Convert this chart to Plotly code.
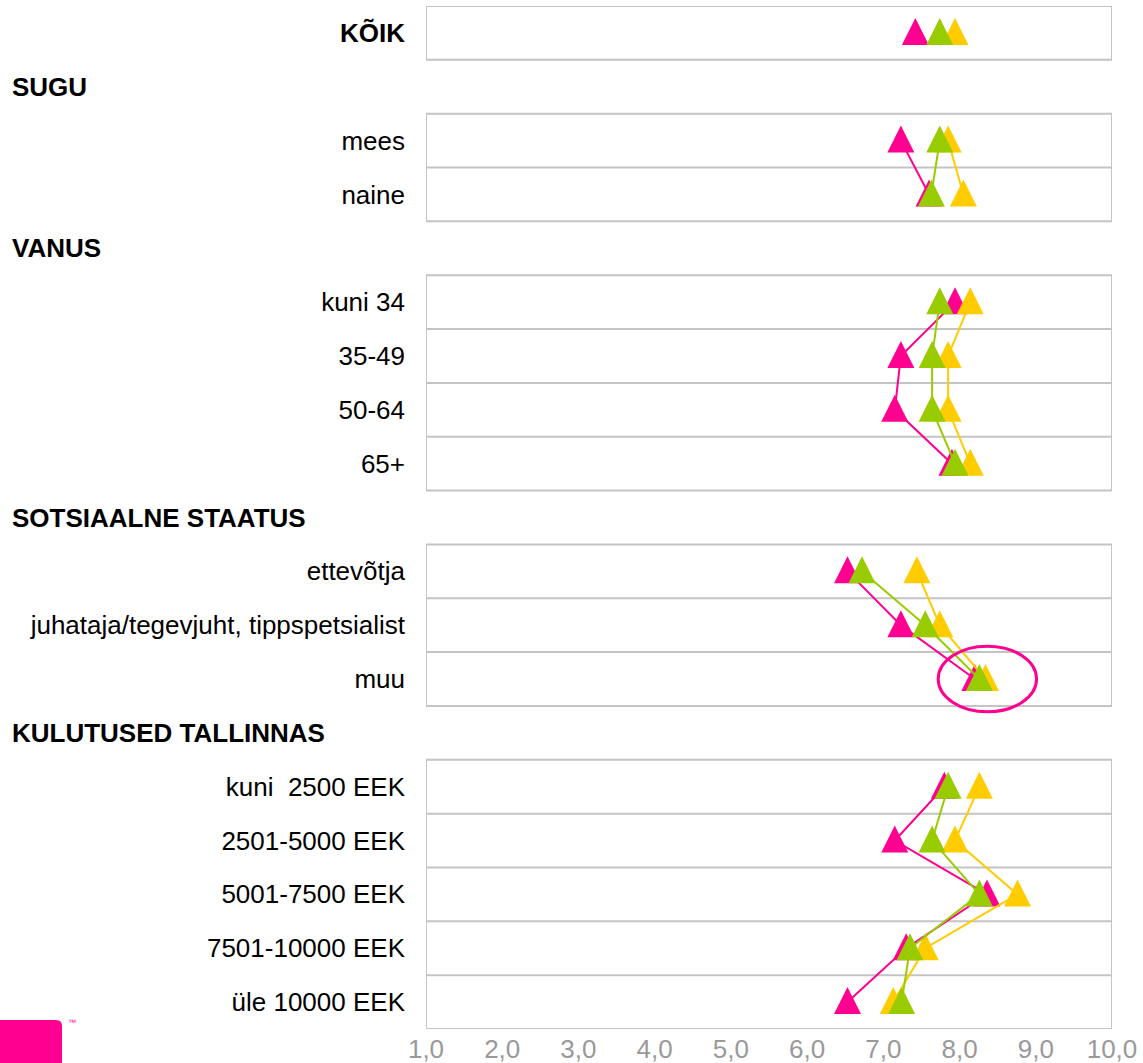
import plotly.graph_objects as go

# ---------------- data ----------------
categories = ["KÕIK", "SUGU", "mees", "naine", "VANUS", "kuni 34", "35-49", "50-64", "65+",
              "SOTSIAALNE STAATUS", "ettevõtja", "juhataja/tegevjuht, tippspetsialist", "muu",
              "KULUTUSED TALLINNAS", "kuni  2500 EEK", "2501-5000 EEK", "5001-7500 EEK",
              "7501-10000 EEK", "üle 10000 EEK"]
headers = ["SUGU", "VANUS", "SOTSIAALNE STAATUS", "KULUTUSED TALLINNAS"]

series_pink = [7.42, None, 7.23, 7.60, None, 7.94, 7.23, 7.15, 7.90, None,
               6.53, 7.23, 8.20, None, 7.80, 7.15, 8.36, 7.30, 6.53]
series_green = [7.74, None, 7.74, 7.63, None, 7.74, 7.64, 7.64, 7.94, None,
                6.72, 7.55, 8.26, None, 7.85, 7.64, 8.26, 7.35, 7.24]
series_yellow = [7.94, None, 7.85, 8.05, None, 8.14, 7.85, 7.85, 8.14, None,
                 7.44, 7.74, 8.34, None, 8.26, 7.94, 8.76, 7.55, 7.13]

x_ticks = [1, 2, 3, 4, 5, 6, 7, 8, 9, 10]
highlight_row = "muu"

# ---------------- styling ----------------
W, H = 1143, 1063
ML, MR, MT, MB = 426, 31, 6, 34
FONT = "Liberation Sans, Arial, sans-serif"
PINK, GREEN, YELLOW = "#FF0090", "#99CC00", "#FFCC00"
BOX = "#C4C4C4"

rows = list(range(len(categories)))

fig = go.Figure()
for name, vals, col in [("Seeria 1", series_pink, PINK),
                        ("Seeria 3", series_yellow, YELLOW),
                        ("Seeria 2", series_green, GREEN)]:
    fig.add_trace(go.Scatter(
        x=vals, y=rows, mode="lines+markers", name=name,
        line=dict(color=col, width=2), connectgaps=False,
        marker=dict(symbol="arrow-down", angle=180, standoff=15, size=27,
                    color=col, line=dict(width=0)),
        showlegend=False, hoverinfo="x+y"))

# group boxes and separators
shapes = []
groups = []
cur = []
for i, c in enumerate(categories):
    if c in headers:
        if cur:
            groups.append(cur)
        cur = []
    else:
        cur.append(i)
if cur:
    groups.append(cur)

for g in groups:
    shapes.append(dict(type="rect", xref="x", yref="y", x0=x_ticks[0], x1=x_ticks[-1],
                       y0=g[0] - 0.5, y1=g[-1] + 0.5, line=dict(color=BOX, width=2),
                       layer="below"))
    for r in g[1:]:
        shapes.append(dict(type="line", xref="x", yref="y", x0=x_ticks[0], x1=x_ticks[-1],
                           y0=r - 0.5, y1=r - 0.5, line=dict(color=BOX, width=2), layer="below"))

# highlight ellipse around "muu"
hi = categories.index(highlight_row)
shapes.append(dict(type="circle", xref="x", yref="y", x0=7.72, x1=9.01,
                   y0=hi - 0.61, y1=hi + 0.61, line=dict(color=PINK, width=3)))

# logo (partly cut) bottom-left
pw, ph = W - ML - MR, H - MT - MB
def px(x):
    return (x - ML) / pw
def py(y):
    return (H - MB - y) / ph
rr = 6
path = (f"M {px(-5)},{py(1070)} L {px(-5)},{py(1020)} L {px(62 - rr)},{py(1020)} "
        f"Q {px(62)},{py(1020)} {px(62)},{py(1020 + rr)} L {px(62)},{py(1070)} Z")
shapes.append(dict(type="path", xref="paper", yref="paper", path=path,
                   fillcolor=PINK, line=dict(width=0)))

annotations = []
for h in headers:
    annotations.append(dict(x=0, xref="paper", xshift=-(ML - 10), xanchor="left",
                            y=categories.index(h), yref="y", yanchor="middle",
                            text=f"<b>{h}</b>", showarrow=False,
                            font=dict(family=FONT, size=26, color="#000000")))
annotations.append(dict(x=px(66), y=py(1022), xref="paper", yref="paper",
                        xanchor="left", yanchor="middle", text="™", showarrow=False,
                        font=dict(family=FONT, size=8, color=PINK)))

ticktext = []
tickvals = []
for i, c in enumerate(categories):
    if c in headers:
        continue
    tickvals.append(i)
    ticktext.append(f"<b>{c}</b>" if i == 0 else c)

fig.update_layout(
    width=W, height=H, margin=dict(l=ML, r=MR, t=MT, b=MB, pad=0, autoexpand=False),
    plot_bgcolor="white", paper_bgcolor="white",
    separators=", ",
    font=dict(family=FONT, size=26, color="#000000"),
    shapes=shapes, annotations=annotations,
    xaxis=dict(range=[x_ticks[0], x_ticks[-1]], tickvals=x_ticks, tickformat=".1f",
               showgrid=False, zeroline=False, showline=False, ticks="",
               automargin=False, ticklabelstandoff=2,
               tickfont=dict(family=FONT, size=26, color="#999999")),
    yaxis=dict(range=[len(categories) - 0.5, -0.5], tickvals=tickvals, ticktext=ticktext,
               showgrid=False, zeroline=False, showline=False, ticks="",
               automargin=False, ticklabelstandoff=20,
               tickfont=dict(family=FONT, size=26, color="#000000")),
)

fig.write_html("out.html", config={"displayModeBar": False},
               post_script="document.body.style.margin='0';")
